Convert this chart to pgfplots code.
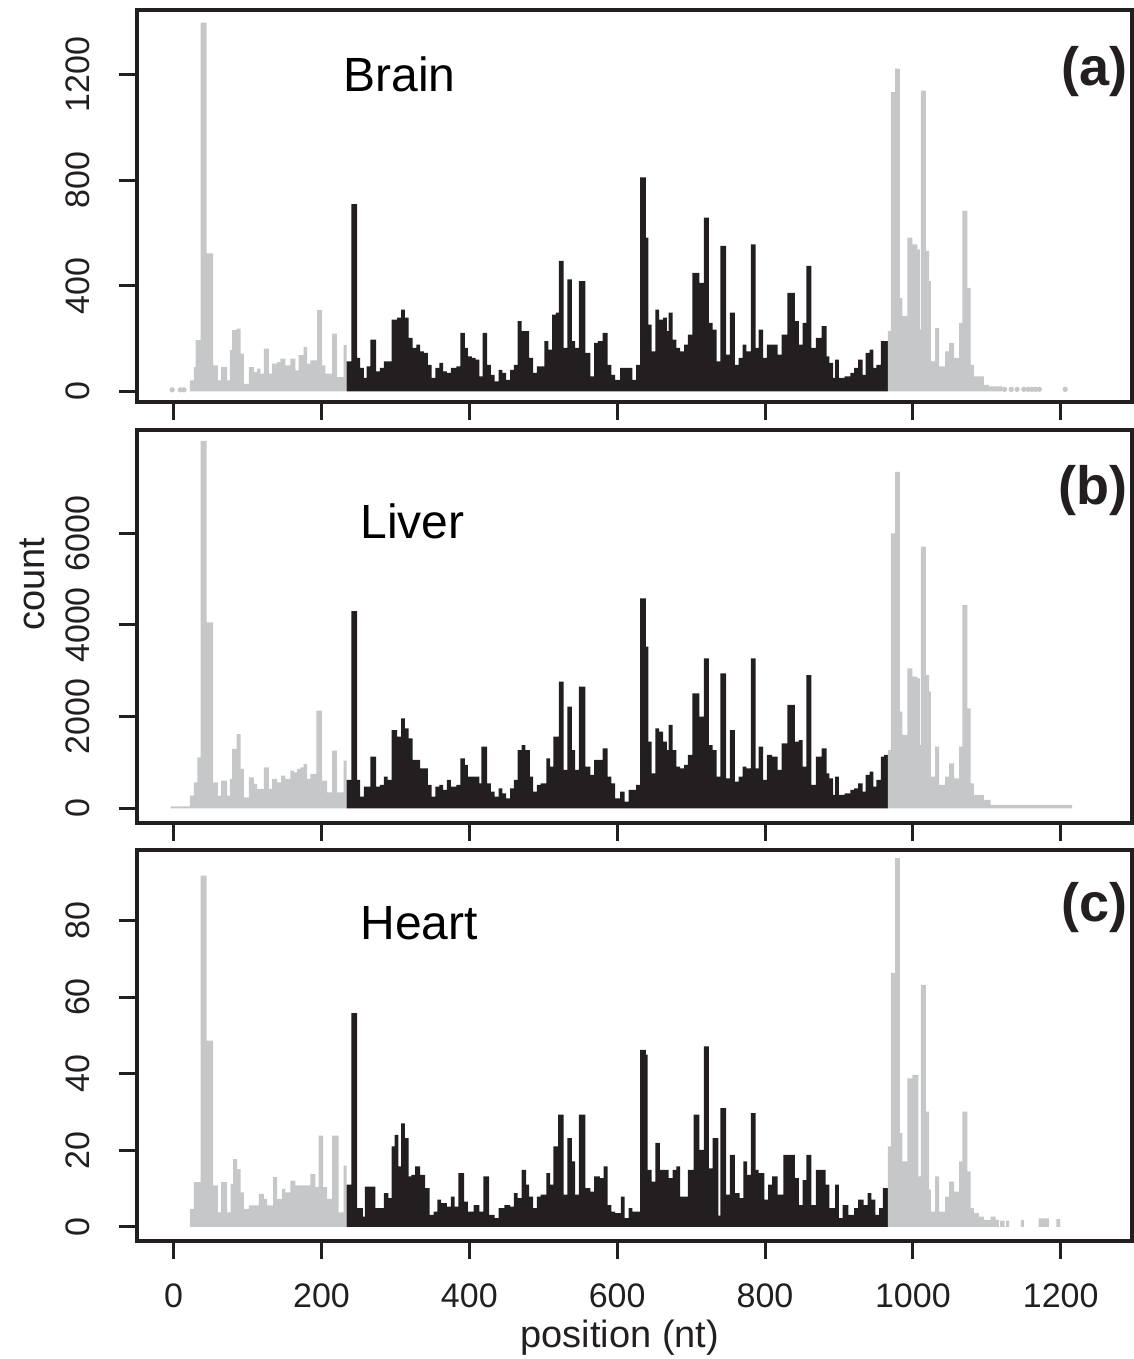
\documentclass[border=0pt]{standalone}
\usepackage{fontspec}
\setmainfont{Liberation Sans}
\usepackage{pgfplots}
\pgfplotsset{compat=1.18}
\definecolor{gr}{RGB}{198,199,201}
\definecolor{bk}{RGB}{35,31,32}
\pgfplotsset{panel/.style={
  scale only axis, width=497.5pt,
  xmin=-50, xmax=1296,
  xtick={0,200,...,1200},
  tick align=outside, xtick pos=left, ytick pos=left,
  major tick length=9pt,
  major tick style={line width=1.5pt, draw=bk},
  axis line style={line width=1.9pt, draw=bk},
  axis on top,
  tick label style={font=\fontsize{17}{19}\selectfont, text=bk},
  /pgf/number format/assume math mode=true,
  /pgf/number format/set thousands separator={},
  xticklabel style={yshift=-9pt},
  yticklabel style={xshift=-11pt, rotate=90, anchor=south},
  scaled y ticks=false,
  clip=false,
}}
\tikzset{gbar/.style={const plot, fill=gr, draw=none},
         kbar/.style={const plot, fill=bk, draw=none}}
\begin{document}
\begin{tikzpicture}
\path[use as bounding box] (-68.35pt,5pt) rectangle (498.65pt,-674.5pt);
% ---------------- (a) Brain
\begin{axis}[panel, at={(0pt,0pt)}, anchor=north west, height=196pt,
  ymin=-40, ymax=1444, ytick={0,400,800,1200}, xticklabels={}]
\addplot[gbar] coordinates {(22.05,42)(27.45,92)(29.7,194)(36.45,1396)(44.55,523)(53.55,99)(59.85,42)(64.35,92)(72.45,42)(76.05,156)(79.2,232)(85.05,238)(90.45,143)(94.95,29)(101.7,92)(108.45,73)(112.95,86)(117.45,67)(121.95,162)(128.7,67)(133.2,105)(139.95,111)(144.45,124)(151.2,99)(157.95,124)(164.7,80)(169.2,137)(175.95,168)(180.45,105)(184.95,118)(193.95,308)(200.7,99)(205.2,67)(214.2,219)(220.95,54)(229.95,175)(234,175)} \closedcycle;
\addplot[kbar] coordinates {(234,114)(240.4,709)(248.1,127)(252.3,89)(257.4,51)(261.0,95)(266.2,196)(274.0,76)(279.1,89)(284.3,114)(289.5,114)(294.7,272)(302.4,279)(307.6,310)(312.8,279)(318.0,203)(323.1,165)(328.3,177)(333.5,152)(338.6,146)(343.8,101)(349.0,51)(354.2,89)(359.3,108)(364.5,76)(369.7,70)(374.9,89)(382.6,95)(387.8,222)(394.0,165)(398.1,133)(403.3,127)(408.5,120)(413.6,57)(417.8,222)(424.0,101)(429.2,63)(434.3,38)(439.5,82)(444.7,70)(449.9,44)(455.0,82)(460.2,101)(465.4,266)(470.6,228)(475.7,228)(480.9,127)(486.1,70)(491.2,95)(496.4,95)(501.6,190)(506.8,158)(511.9,291)(517.1,298)(521.2,494)(527.5,165)(532.6,424)(538.8,190)(543.0,165)(548.1,418)(556.9,146)(563.7,57)(568.8,184)(574.0,190)(580.2,222)(586.9,101)(592.1,63)(597.3,44)(604.0,89)(612.8,89)(620.6,44)(625.7,101)(630.9,810)(638.7,582)(642.3,253)(646.4,152)(651.6,310)(656.8,272)(662.0,279)(667.1,228)(669.7,298)(674.9,196)(680.1,165)(685.2,152)(690.4,177)(695.6,215)(701.8,449)(711.1,411)(717.3,658)(724.0,260)(729.2,234)(734.4,114)(739.5,551)(747.3,139)(752.5,298)(759.2,101)(764.4,127)(769.5,177)(774.7,152)(780.9,557)(787.1,165)(791.3,234)(797.5,127)(802.6,177)(809.4,177)(817.1,139)(822.3,215)(830.1,373)(840.4,266)(845.6,177)(850.8,260)(856.0,475)(862.7,165)(868.9,203)(876.6,247)(883.4,133)(887.0,108)(892.1,51)(894.7,120)(899.9,51)(907.7,57)(915.4,70)(920.6,89)(925.8,120)(932.0,63)(936.1,146)(941.3,158)(946.5,89)(950.6,101)(956.8,190)(961.0,190)(966,190)} \closedcycle;
\addplot[gbar] coordinates {(966,228)(970.15,1133)(976.0,1222)(982.3,354)(985.9,285)(992.65,582)(999.4,557)(1006.15,538)(1009.3,234)(1010.65,1139)(1017.4,532)(1021.9,418)(1024.15,114)(1030.0,240)(1035.4,95)(1043.5,152)(1048.9,184)(1055.65,127)(1062.4,260)(1066.9,684)(1073.65,392)(1078.15,101)(1082.65,57)(1096.15,25)(1102.9,19)(1120.9,19)} \closedcycle;
\addplot[only marks, mark=*, mark size=1.1pt, color=gr] coordinates {(-2,6)(9,6)(14,6)(1124,8)(1133,8)(1141,8)(1150,8)(1156,8)(1161,8)(1166,8)(1171,8)(1206,8)};
\node[anchor=base west, inner sep=0pt, font=\fontsize{24}{28}\selectfont, text=black] at (rel axis cs:0.2073,0.791) {Brain};
\node[anchor=east, inner sep=0pt, font=\fontsize{27}{30}\selectfont\bfseries, text=bk] at (rel axis cs:0.9963,0.844) {(a)};
\end{axis}
% ---------------- (b) Liver
\begin{axis}[panel, at={(0pt,-210pt)}, anchor=north west, height=196.5pt,
  ymin=-321, ymax=8254, ytick={0,2000,4000,6000}, xticklabels={}]
\addplot[gbar] coordinates {(-4,40)(22.05,276)(27.45,567)(31.95,1112)(36.45,8019)(44.55,4057)(53.55,567)(59.85,276)(64.35,603)(72.45,276)(76.05,640)(79.2,1294)(85.05,1621)(90.45,858)(94.95,240)(101.7,676)(108.45,531)(112.95,422)(121.95,894)(128.7,422)(133.2,640)(139.95,567)(145.35,712)(151.2,640)(157.95,822)(162.45,785)(166.95,858)(171.45,894)(175.95,967)(180.45,640)(184.95,749)(193.05,2130)(200.7,603)(207.45,349)(214.2,1258)(220.95,349)(229.95,1040)(234,1040)} \closedcycle;
\addplot[kbar] coordinates {(234,618)(240.4,4300)(248.1,618)(252.3,255)(257.4,473)(266.2,1127)(274.0,473)(279.1,509)(284.3,691)(289.5,618)(294.7,1708)(302.4,1563)(307.6,1963)(312.8,1745)(318.0,1527)(323.1,1054)(333.5,873)(343.8,509)(349.0,255)(354.2,473)(359.3,509)(364.5,400)(369.7,618)(374.9,473)(382.6,509)(387.8,1090)(394.0,945)(398.1,691)(413.6,545)(416.2,1345)(424.0,545)(429.2,364)(434.3,255)(439.5,436)(444.7,327)(449.9,218)(455.0,436)(460.2,618)(465.4,1272)(470.6,1381)(475.7,1272)(481.9,691)(486.1,364)(491.2,509)(496.4,545)(504.2,1090)(509.3,909)(513.5,1563)(521.2,2763)(527.5,836)(532.6,2217)(538.8,1272)(543.0,836)(548.1,2654)(556.9,909)(563.7,727)(568.8,1054)(580.2,1309)(586.9,691)(592.1,545)(597.3,218)(604.0,364)(610.2,145)(615.4,400)(625.7,509)(630.9,4580)(638.7,3526)(642.3,1454)(646.4,764)(651.6,1745)(656.8,1672)(662.0,1454)(667.1,1272)(669.7,1818)(674.9,1272)(680.1,909)(685.2,873)(690.4,945)(695.6,1163)(701.8,2508)(711.1,2000)(717.3,3272)(724.0,1381)(729.2,1272)(734.4,691)(739.5,2944)(747.3,654)(752.5,1708)(759.2,582)(764.4,691)(769.5,909)(774.7,873)(780.9,3272)(787.1,873)(791.3,1345)(797.5,618)(802.6,1163)(809.4,1127)(817.1,836)(822.3,1418)(830.1,2254)(840.4,1454)(845.6,1490)(850.8,909)(856.0,2908)(862.7,509)(868.9,1127)(876.6,1309)(883.4,764)(887.0,654)(892.1,291)(894.7,691)(899.9,291)(907.7,327)(915.4,400)(920.6,436)(925.8,545)(932.0,364)(936.1,727)(941.3,800)(946.5,473)(950.6,618)(956.8,1127)(961.0,1163)(966,1163)} \closedcycle;
\addplot[gbar] coordinates {(966,1272)(970.15,5998)(976.0,7343)(982.3,2108)(985.9,1600)(992.65,3053)(999.4,2872)(1006.15,2835)(1009.3,1381)(1010.65,5707)(1017.4,2908)(1021.9,2545)(1024.15,691)(1030.0,1345)(1035.4,509)(1043.5,691)(1048.9,981)(1055.65,654)(1062.4,1345)(1066.9,4435)(1073.65,2181)(1078.15,545)(1082.65,291)(1096.15,182)(1105.15,73)(1215.4,73)} \closedcycle;
\node[anchor=base west, inner sep=0pt, font=\fontsize{24}{28}\selectfont, text=black] at (rel axis cs:0.2244,0.725) {Liver};
\node[anchor=east, inner sep=0pt, font=\fontsize{27}{30}\selectfont\bfseries, text=bk] at (rel axis cs:0.9963,0.845) {(b)};
\end{axis}
% ---------------- (c) Heart
\begin{axis}[panel, at={(0pt,-420pt)}, anchor=north west, height=195.5pt,
  ymin=-3.7, ymax=98.4, ytick={0,20,40,60,80}]
\addplot[gbar] coordinates {(22.05,4.7)(27.45,11.7)(36.45,91.7)(44.55,48.6)(53.55,10.8)(59.85,3.8)(64.35,11.7)(72.45,3.8)(76.95,11.2)(80.55,17.7)(85.95,15.1)(90.45,9)(94.95,4.7)(101.7,5.6)(115.2,8.6)(121.95,7.3)(126.45,5.6)(134.55,13)(139.95,7.3)(146.7,9.9)(151.2,9)(157.95,12.1)(164.7,10.8)(175.95,10.8)(184.95,13.8)(191.7,10.4)(196.2,23.8)(202.05,10.4)(207.45,7.3)(214.2,23.8)(223.2,3.8)(229.95,16)(234,16)} \closedcycle;
\addplot[kbar] coordinates {(234,11)(240.4,55.8)(248.1,4.9)(255.9,2.7)(258.5,10.5)(273.0,4.9)(284.3,8.8)(290.5,7.5)(294.7,21)(298.8,24)(304.0,15.8)(307.6,27)(312.8,23.2)(318.0,13.2)(321.6,13.6)(326.7,15.8)(333.5,13.6)(340.2,10.1)(346.4,3.1)(351.6,4)(356.7,7.1)(361.9,6.2)(369.7,5.3)(374.9,7.9)(380.0,5.3)(385.2,14)(393.0,6.6)(398.1,4)(405.9,5.7)(413.6,4)(418.8,13.2)(426.6,3.1)(434.3,2.3)(439.5,4.9)(447.3,5.7)(455.0,5.3)(460.2,8.8)(465.4,7.5)(470.6,14.9)(476.8,11)(480.9,7.9)(486.1,4.9)(491.2,7.9)(496.4,8.4)(504.2,14)(509.3,11)(513.5,21)(520.2,29.3)(527.5,8.4)(532.6,23.2)(538.8,17.1)(543.0,8.4)(548.1,29.3)(556.9,10.1)(563.7,9.2)(568.8,13.2)(576.6,12.7)(581.8,15.8)(586.9,5.7)(592.1,4)(597.3,3.6)(605.1,7.9)(610.2,2.3)(615.4,4.9)(620.6,4)(630.9,46.2)(638.7,45)(641.3,14.9)(646.4,11.8)(651.6,21.9)(657.8,14.9)(669.7,12.7)(674.9,14.9)(680.1,15.8)(685.2,7.9)(695.6,14.9)(703.3,29.3)(711.1,20.1)(717.3,47.1)(724.0,15.3)(729.2,23.2)(736.9,2.9)(739.5,31)(747.3,8.4)(752.5,18.8)(759.2,8.8)(765.5,7.5)(770.6,17.1)(775.7,13.6)(780.9,29.7)(787.1,14.9)(791.3,14)(799.0,7.1)(804.2,11)(809.4,13.2)(817.1,8.4)(824.9,18.8)(840.4,12.7)(845.6,5.7)(850.8,12.2)(856.0,18.8)(862.7,5.7)(868.9,14.9)(881.8,11)(887.0,4.9)(894.7,11)(899.9,2.3)(905.1,5.7)(912.8,3.1)(920.6,4.9)(925.8,7.1)(933.5,5.7)(938.7,8.8)(943.9,7.1)(949.1,3.1)(954.2,4.9)(959.4,10.1)(966,10.1)} \closedcycle;
\addplot[gbar] coordinates {(966,21)(970.15,66.3)(976.0,96.3)(982.3,24.5)(985.9,17.1)(992.65,38.8)(999.4,39.7)(1007.5,13.2)(1010.65,63.2)(1017.4,30.1)(1021.9,9.7)(1024.15,4)(1030.0,13.2)(1035.4,4)(1043.5,7.9)(1048.9,11.8)(1055.65,9.2)(1062.4,17.1)(1066.9,30.1)(1073.65,14.5)(1078.15,4.9)(1082.65,3.6)(1089.4,2.7)(1096.15,1.8)(1105.15,2.7)(1111.9,1.8)(1116.4,1.8)} \closedcycle;
\addplot[gbar] coordinates {(1118,1.6)(1124,1.6)} \closedcycle;
\addplot[gbar] coordinates {(1126,1.6)(1130,1.6)} \closedcycle;
\addplot[gbar] coordinates {(1146,1.8)(1150,1.8)} \closedcycle;
\addplot[gbar] coordinates {(1170,2.2)(1184,2.2)} \closedcycle;
\addplot[gbar] coordinates {(1194,2)(1199,2)} \closedcycle;
\node[anchor=base west, inner sep=0pt, font=\fontsize{24}{28}\selectfont, text=black] at (rel axis cs:0.2244,0.770) {Heart};
\node[anchor=east, inner sep=0pt, font=\fontsize{27}{30}\selectfont\bfseries, text=bk] at (rel axis cs:0.9963,0.852) {(c)};
\end{axis}
\node[rotate=90, inner sep=0pt, font=\fontsize{19}{22}\selectfont, text=bk] at (-52.35pt,-287pt) {count};
\node[inner sep=0pt, font=\fontsize{19}{22}\selectfont, text=bk] at (241.6pt,-664pt) {position (nt)};
\end{tikzpicture}
\end{document}
